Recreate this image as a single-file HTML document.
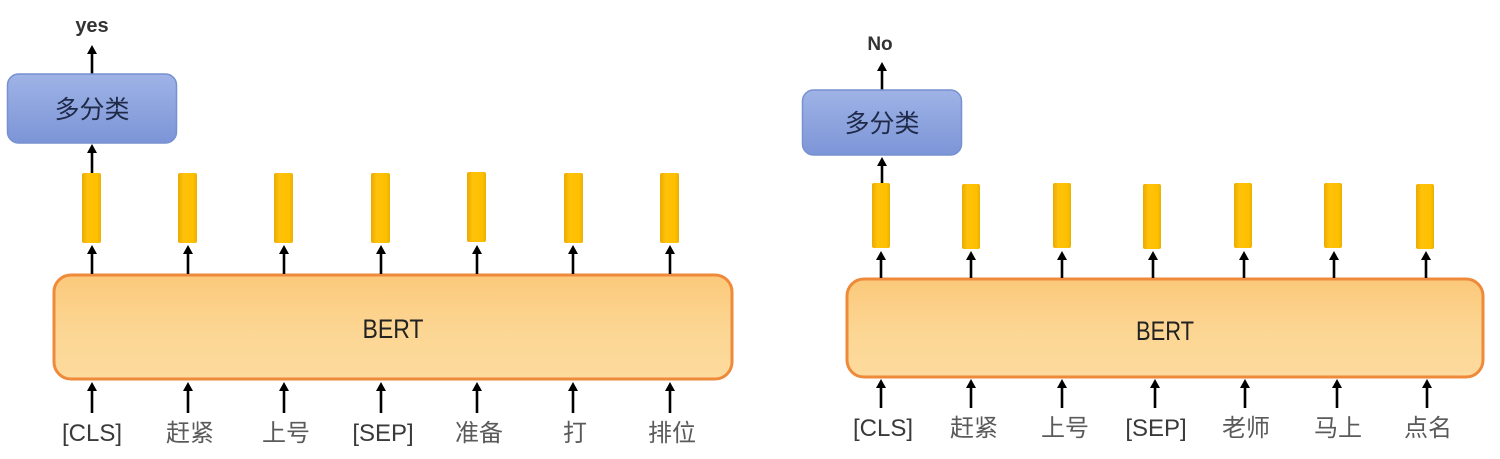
<!DOCTYPE html>
<html><head><meta charset="utf-8"><style>
html,body{margin:0;padding:0;background:#fff;}
svg{display:block;}
text{font-family:"Liberation Sans","Noto Sans CJK SC",sans-serif;}
</style></head><body>
<svg width="1500" height="459" viewBox="0 0 1500 459" xmlns="http://www.w3.org/2000/svg">
<defs>
<linearGradient id="og" x1="0" y1="0" x2="0" y2="1">
<stop offset="0" stop-color="#FBC97A"/><stop offset="0.5" stop-color="#FCD592"/><stop offset="1" stop-color="#FDDB9E"/>
</linearGradient>
<linearGradient id="bg" x1="0" y1="0" x2="0" y2="1">
<stop offset="0" stop-color="#9FB3E6"/><stop offset="1" stop-color="#7C95D7"/>
</linearGradient>
<linearGradient id="yg" x1="0" y1="0" x2="1" y2="0">
<stop offset="0" stop-color="#EBAA00"/><stop offset="0.3" stop-color="#FFC20A"/><stop offset="0.8" stop-color="#FFC000"/><stop offset="1" stop-color="#E8B000"/>
</linearGradient>
</defs>

<!-- LEFT PANEL -->
<text x="92" y="32" font-size="20" font-weight="bold" fill="#333" text-anchor="middle">yes</text>
<g stroke="#000" stroke-width="2.6">
<line x1="92" y1="74" x2="92" y2="52"/>
<line x1="92" y1="173" x2="92" y2="152"/>
</g>
<g fill="#000">
<polygon points="92,45 87,54 97,54"/>
<polygon points="92,144 87,153 97,153"/>
</g>
<rect x="7.5" y="74" width="169" height="69" rx="11" fill="url(#bg)" stroke="#7790CF" stroke-width="1.5"/>
<text x="92" y="118" font-size="25" fill="#1F2A48" text-anchor="middle">多分类</text>

<g fill="url(#yg)">
<rect x="82" y="173" width="19" height="70" rx="2"/>
<rect x="178" y="173" width="19" height="70" rx="2"/>
<rect x="274" y="173" width="19" height="70" rx="2"/>
<rect x="371" y="173" width="19" height="70" rx="2"/>
<rect x="467" y="172" width="19" height="70" rx="2"/>
<rect x="564" y="173" width="19" height="70" rx="2"/>
<rect x="660" y="173" width="19" height="70" rx="2"/>
</g>

<rect x="54" y="275" width="678" height="104" rx="17" fill="url(#og)" stroke="#EE8A3A" stroke-width="3"/>
<text x="393" y="338" font-size="27" fill="#222" text-anchor="middle" textLength="61" lengthAdjust="spacingAndGlyphs">BERT</text>

<g stroke="#000" stroke-width="2.6">
<line x1="92" y1="274" x2="92" y2="253"/><line x1="188" y1="274" x2="188" y2="253"/><line x1="284" y1="274" x2="284" y2="253"/><line x1="381" y1="274" x2="381" y2="253"/><line x1="477" y1="274" x2="477" y2="253"/><line x1="573" y1="274" x2="573" y2="253"/><line x1="670" y1="274" x2="670" y2="253"/>
<line x1="92" y1="413" x2="92" y2="390"/><line x1="188" y1="413" x2="188" y2="390"/><line x1="284" y1="413" x2="284" y2="390"/><line x1="381" y1="413" x2="381" y2="390"/><line x1="477" y1="413" x2="477" y2="390"/><line x1="573" y1="413" x2="573" y2="390"/><line x1="670" y1="413" x2="670" y2="390"/>
</g>
<g fill="#000">
<polygon points="92,245 87,254 97,254"/><polygon points="188,245 183,254 193,254"/><polygon points="284,245 279,254 289,254"/><polygon points="381,245 376,254 386,254"/><polygon points="477,245 472,254 482,254"/><polygon points="573,245 568,254 578,254"/><polygon points="670,245 665,254 675,254"/>
<polygon points="92,382 87,391 97,391"/><polygon points="188,382 183,391 193,391"/><polygon points="284,382 279,391 289,391"/><polygon points="381,382 376,391 386,391"/><polygon points="477,382 472,391 482,391"/><polygon points="573,382 568,391 578,391"/><polygon points="670,382 665,391 675,391"/>
</g>
<g font-size="24" text-anchor="middle">
<text x="92" y="441" fill="#3A3A3A">[CLS]</text>
<text x="190" y="441" fill="#5A5A5A">赶紧</text>
<text x="286" y="441" fill="#5A5A5A">上号</text>
<text x="383" y="441" fill="#3A3A3A">[SEP]</text>
<text x="479" y="441" fill="#5A5A5A">准备</text>
<text x="575" y="441" fill="#5A5A5A">打</text>
<text x="672" y="441" fill="#5A5A5A">排位</text>
</g>

<!-- RIGHT PANEL -->
<text x="880" y="50" font-size="19" font-weight="bold" fill="#333" text-anchor="middle">No</text>
<g stroke="#000" stroke-width="2.6">
<line x1="882" y1="90" x2="882" y2="69"/>
<line x1="882" y1="183" x2="882" y2="165"/>
</g>
<g fill="#000">
<polygon points="882,62 877,71 887,71"/>
<polygon points="882,157 877,166 887,166"/>
</g>
<rect x="802.5" y="90" width="159" height="65" rx="11" fill="url(#bg)" stroke="#7790CF" stroke-width="1.5"/>
<text x="882" y="132" font-size="25" fill="#1F2A48" text-anchor="middle">多分类</text>

<g fill="url(#yg)">
<rect x="872" y="183" width="18" height="65" rx="2"/>
<rect x="962" y="184" width="18" height="65" rx="2"/>
<rect x="1053" y="183" width="18" height="65" rx="2"/>
<rect x="1143" y="184" width="18" height="65" rx="2"/>
<rect x="1234" y="183" width="18" height="65" rx="2"/>
<rect x="1324" y="183" width="18" height="65" rx="2"/>
<rect x="1416" y="184" width="18" height="65" rx="2"/>
</g>

<rect x="847" y="279" width="636" height="98" rx="17" fill="url(#og)" stroke="#EE8A3A" stroke-width="3"/>
<text x="1165" y="340" font-size="27" fill="#222" text-anchor="middle" textLength="58" lengthAdjust="spacingAndGlyphs">BERT</text>

<g stroke="#000" stroke-width="2.6">
<line x1="881" y1="278" x2="881" y2="259"/><line x1="971" y1="278" x2="971" y2="259"/><line x1="1062" y1="278" x2="1062" y2="259"/><line x1="1153" y1="278" x2="1153" y2="259"/><line x1="1244" y1="278" x2="1244" y2="259"/><line x1="1334" y1="278" x2="1334" y2="259"/><line x1="1426" y1="278" x2="1426" y2="259"/>
<line x1="881" y1="408" x2="881" y2="387"/><line x1="971" y1="408" x2="971" y2="387"/><line x1="1062" y1="408" x2="1062" y2="387"/><line x1="1155" y1="408" x2="1155" y2="387"/><line x1="1245" y1="408" x2="1245" y2="387"/><line x1="1337" y1="408" x2="1337" y2="387"/><line x1="1427" y1="408" x2="1427" y2="387"/>
</g>
<g fill="#000">
<polygon points="881,251 876,260 886,260"/><polygon points="971,251 966,260 976,260"/><polygon points="1062,251 1057,260 1067,260"/><polygon points="1153,251 1148,260 1158,260"/><polygon points="1244,251 1239,260 1249,260"/><polygon points="1334,251 1329,260 1339,260"/><polygon points="1426,251 1421,260 1431,260"/>
<polygon points="881,379 876,388 886,388"/><polygon points="971,379 966,388 976,388"/><polygon points="1062,379 1057,388 1067,388"/><polygon points="1155,379 1150,388 1160,388"/><polygon points="1245,379 1240,388 1250,388"/><polygon points="1337,379 1332,388 1342,388"/><polygon points="1427,379 1422,388 1432,388"/>
</g>
<g font-size="24" text-anchor="middle">
<text x="883" y="436" fill="#3A3A3A">[CLS]</text>
<text x="974" y="436" fill="#5A5A5A">赶紧</text>
<text x="1065" y="436" fill="#5A5A5A">上号</text>
<text x="1156" y="436" fill="#3A3A3A">[SEP]</text>
<text x="1246" y="436" fill="#5A5A5A">老师</text>
<text x="1338" y="436" fill="#5A5A5A">马上</text>
<text x="1428" y="436" fill="#5A5A5A">点名</text>
</g>
</svg>
</body></html>
